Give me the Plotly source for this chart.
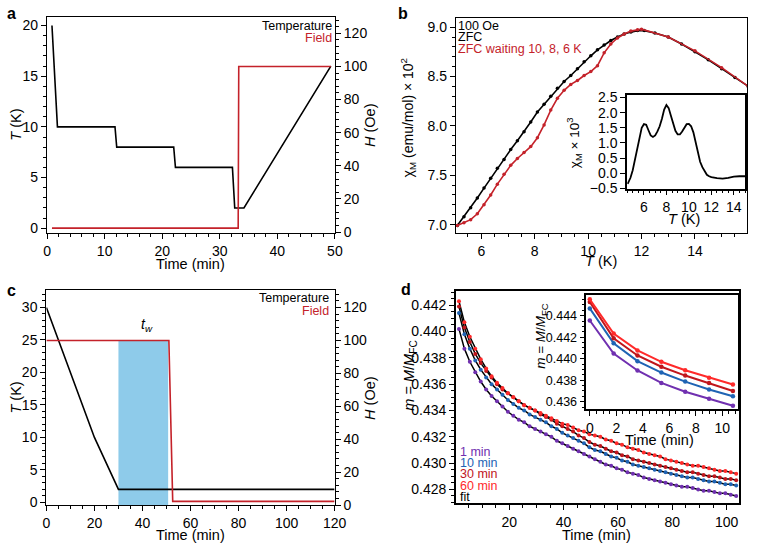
import plotly.graph_objects as go

FONT = "Liberation Sans, Arial, Helvetica, sans-serif"

# ---------------- Panel a ----------------
a_time_T = [0.85, 1.8, 11.8, 12.1, 22.0, 22.3, 32.2, 32.6, 34.2, 49.3]
a_temp = [20, 10, 10, 8, 8, 6, 6, 2, 2, 16]
a_time_H = [0.85, 33.2, 33.3, 49.3]
a_field = [2.4, 2.4, 100, 100]

# ---------------- Panel b ----------------
b_T_zfc = [5.1, 5.35, 5.6, 5.85, 6.1, 6.35, 6.6, 6.85, 7.1, 7.35, 7.6, 7.85, 8.1, 8.35, 8.6, 8.85,
           9.1, 9.35, 9.6, 9.85, 10.1, 10.35, 10.6, 10.85, 11.1, 11.35, 11.6, 11.85, 12.1, 12.5,
           13.0, 13.5, 14.0, 14.5, 15.0, 15.5, 16.0]
b_chi_zfc = [6.99, 7.08, 7.17, 7.27, 7.37, 7.47, 7.57, 7.66, 7.76, 7.85, 7.94, 8.04, 8.14, 8.22,
             8.30, 8.38, 8.45, 8.51, 8.58, 8.65, 8.71, 8.77, 8.82, 8.865, 8.90, 8.93, 8.95, 8.965,
             8.965, 8.94, 8.90, 8.83, 8.75, 8.67, 8.58, 8.49, 8.40]
b_T_wait = [5.1, 5.35, 5.6, 5.85, 6.1, 6.35, 6.6, 6.85, 7.1, 7.35, 7.6, 7.85, 8.1, 8.35, 8.6, 8.85,
            9.1, 9.35, 9.6, 9.85, 10.1, 10.35, 10.6, 10.85, 11.1, 11.35, 11.6, 11.85, 12.0,
            13.0, 14.0, 15.0, 16.0]
b_chi_wait = [6.99, 7.02, 7.05, 7.11, 7.20, 7.30, 7.41, 7.51, 7.60, 7.67, 7.73, 7.79, 7.88, 8.01,
              8.16, 8.28, 8.36, 8.42, 8.46, 8.51, 8.55, 8.61, 8.74, 8.83, 8.89, 8.93, 8.96, 8.975,
              8.98, 8.90, 8.76, 8.59, 8.40]
# inset: difference curve
b_in_T = [4.55, 4.8, 5.0, 5.2, 5.4, 5.6, 5.8, 6.0, 6.2, 6.4, 6.6, 6.8, 7.0, 7.2, 7.4, 7.6, 7.8, 8.0,
          8.2, 8.4, 8.6, 8.8, 9.0, 9.2, 9.4, 9.6, 9.8, 10.0, 10.2, 10.4, 10.6, 10.8, 11.0, 11.2,
          11.4, 11.6, 11.8, 12.0, 12.5, 13.0, 13.5, 14.0, 14.5, 15.0]
b_in_d = [-0.35, -0.15, 0.1, 0.45, 0.82, 1.18, 1.5, 1.62, 1.6, 1.42, 1.25, 1.2, 1.25, 1.38, 1.55,
          1.8, 2.1, 2.25, 2.15, 1.9, 1.62, 1.4, 1.28, 1.28, 1.38, 1.52, 1.62, 1.63, 1.55, 1.35,
          1.0, 0.65, 0.38, 0.2, 0.05, -0.05, -0.1, -0.13, -0.16, -0.18, -0.15, -0.11, -0.1, -0.1]

# ---------------- Panel c ----------------
c_time_T = [0, 20, 30, 120]
c_temp = [30, 10, 2, 2]
c_time_H = [0, 51, 52.6, 120]
c_field = [100, 100, 2.2, 2.2]
c_wait = [30, 50.7]
c_wait_top = 25

# ---------------- Panel d ----------------
d_t = [1.5, 3.5, 5.5, 7.5, 9.5, 11.5, 13.5, 15.5, 17.5, 19.5, 21.5, 23.5, 25.5, 27.5, 29.5, 31.5,
       33.5, 35.5, 37.5, 39.5, 41.5, 43.5, 45.5, 47.5, 49.5, 51.5, 53.5, 55.5, 57.5, 59.5, 61.5,
       63.5, 65.5, 67.5, 69.5, 71.5, 73.5, 75.5, 77.5, 79.5, 81.5, 83.5, 85.5, 87.5, 89.5, 91.5,
       93.5, 95.5, 97.5, 99.5, 101.5, 103.5]
d_m_1 = [.4402, .4387, .4377, .4369, .4362, .4356, .4351, .4347, .4343, .4339, .4336, .4333, .4331,
         .4328, .4326, .4324, .4322, .4320, .4317, .4315, .4313, .4311, .4309, .4307, .4305, .4303,
         .4301, .4299, .4298, .4296, .4295, .4293, .4292, .4291, .4289, .4288, .4287, .4286, .4285,
         .4284, .4283, .4282, .4282, .4281, .4280, .4279, .4279, .4278, .4277, .4277, .4276, .4275]
d_m_10 = [.4414, .4398, .4387, .4378, .4371, .4365, .4360, .4356, .4352, .4348, .4345, .4342, .4340,
          .4337, .4335, .4333, .4331, .4328, .4326, .4323, .4321, .4319, .4317, .4315, .4312, .4310,
          .4309, .4307, .4305, .4304, .4302, .4301, .4299, .4298, .4297, .4296, .4295, .4294, .4293,
          .4292, .4291, .4290, .4289, .4289, .4288, .4287, .4286, .4286, .4285, .4284, .4284, .4283]
d_m_30 = [.4419, .4403, .4392, .4383, .4376, .4370, .4365, .4360, .4356, .4353, .4350, .4347, .4344,
          .4342, .4340, .4337, .4335, .4333, .4330, .4328, .4326, .4324, .4321, .4319, .4316, .4314,
          .4313, .4311, .4309, .4308, .4306, .4305, .4303, .4302, .4301, .4300, .4299, .4298, .4297,
          .4296, .4295, .4294, .4293, .4293, .4292, .4291, .4290, .4290, .4289, .4288, .4288, .4287]
d_m_60 = [.4423, .4407, .4396, .4387, .4379, .4372, .4366, .4361, .4357, .4353, .4350, .4347, .4344,
          .4342, .4340, .4338, .4336, .4334, .4332, .4330, .4329, .4327, .4325, .4324, .4322, .4321,
          .4320, .4318, .4317, .4315, .4314, .4312, .4311, .4310, .4308, .4307, .4306, .4305, .4303,
          .4302, .4301, .4300, .4299, .4298, .4298, .4297, .4296, .4295, .4294, .4294, .4293, .4292]
# inset (first minutes)
d_in_t = [0, 1.8, 3.6, 5.4, 7.2, 9.0, 10.8]
d_in_1 = [0.44355, 0.44047, 0.43890, 0.43775, 0.43693, 0.43627, 0.43563]
d_in_10 = [0.44467, 0.44143, 0.43977, 0.43871, 0.43787, 0.43714, 0.43650]
d_in_30 = [0.44527, 0.44190, 0.44030, 0.43925, 0.43843, 0.43773, 0.43700]
d_in_60 = [0.44551, 0.44234, 0.44077, 0.43971, 0.43892, 0.43823, 0.43760]
d_labels = ["1 min", "10 min", "30 min", "60 min"]

RED = "#c4222a"
D_COLORS = ["#7030b0", "#1f64b4", "#c0161c", "#ff2a2a"]

fig = go.Figure()

def line(x, y, xa, ya, color, width=1.6, mode="lines", msize=3):
    fig.add_trace(go.Scatter(x=x, y=y, xaxis=xa, yaxis=ya, mode=mode,
                             line=dict(color=color, width=width),
                             marker=dict(color=color, size=msize),
                             showlegend=False, hoverinfo="skip"))

# a
line(a_time_T, a_temp, "x", "y", "black")
line(a_time_H, a_field, "x", "y2", RED)
# b
line(b_T_zfc, b_chi_zfc, "x2", "y3", "black", 1.6, "lines+markers", 3.5)
line(b_T_wait, b_chi_wait, "x2", "y3", RED, 1.6, "lines+markers", 3.5)
line(b_in_T, b_in_d, "x3", "y4", "black", 1.8)
# c
line(c_time_T, c_temp, "x4", "y5", "black")
line(c_time_H, c_field, "x4", "y6", RED)
# d main: fit lines then data dots
for ser in [d_m_1, d_m_10, d_m_30, d_m_60]:
    line(d_t, ser, "x5", "y7", "black", 1.5)
for ser, col in zip([d_m_1, d_m_10, d_m_30, d_m_60], D_COLORS):
    line(d_t, ser, "x5", "y7", col, 1, "markers", 4)
# d inset
for ser, col in zip([d_in_1, d_in_10, d_in_30, d_in_60], D_COLORS):
    line(d_in_t, ser, "x6", "y8", col, 2, "lines+markers", 4.5)


def ax(domain, rng, dtick, minor=None, anchor=None, lw=1.3, fs=14, **kw):
    d = dict(domain=domain, range=rng, dtick=dtick, showline=True, linecolor="black",
             linewidth=lw, ticks="outside", ticklen=5, tickwidth=1.2, tickcolor="black",
             showgrid=False, zeroline=False, fixedrange=True,
             tickfont=dict(size=fs, color="black", family=FONT))
    if anchor:
        d["anchor"] = anchor
    if minor:
        d["minor"] = dict(dtick=minor, ticks="outside", ticklen=3, tickwidth=1,
                          tickcolor="black", showgrid=False)
    d.update(kw)
    return d


def px(x):
    return x / 760.0


def py(y):
    return 1 - y / 552.0


A_X = [px(44), px(338)]
A_Y = [py(233), py(11)]
B_X = [px(461.7), 0.999]
B_Y = [py(233), py(12.7)]
BI_X = [px(636.5), px(757)]
BI_Y = [py(187.3), py(91.7)]
C_X = [px(43.3), px(337.7)]
C_Y = [py(512), py(291)]
D_X = [px(461.7), px(750.7)]
D_Y = [py(510.3), py(292.7)]
DI_X = [px(595), px(750)]
DI_Y = [py(413.3), py(296.7)]

fig.update_layout(
    autosize=True, margin=dict(l=0, r=0, t=0, b=0, pad=0),
    paper_bgcolor="white", plot_bgcolor="rgba(0,0,0,0)",
    font=dict(family=FONT, color="black"),
    xaxis=ax(A_X, [0, 50], 10, 2, "y", mirror=True),
    yaxis=ax(A_Y, [-0.48, 20.87], 5, 1, "x", mirror=True),
    yaxis2=ax(A_Y, [-0.59, 130], 20, 4, "x", overlaying="y", side="right"),
    xaxis2=ax(B_X, [5.05, 15.96], 2, 0.5, "y3", mirror=True),
    yaxis3=ax(B_Y, [6.914, 9.089], 0.5, 0.1, "x2", mirror=True, tickformat=".1f"),
    xaxis3=ax(BI_X, [4.5, 15], 2, 0.5, "y4", lw=1.6, mirror=True),
    yaxis4=ax(BI_Y, [-0.505, 2.57], 0.5, None, "x3", lw=1.6, mirror=True, tickformat=".1f"),
    xaxis4=ax(C_X, [0, 120], 20, 5, "y5", mirror=True),
    yaxis5=ax(C_Y, [-0.4, 32.75], 5, 1, "x4", mirror=True),
    yaxis6=ax(C_Y, [0, 130.9], 20, 4, "x4", overlaying="y5", side="right"),
    xaxis5=ax(D_X, [0.4, 104.5], 20, 5, "y7", lw=1.8, mirror=True),
    yaxis7=ax(D_Y, [0.42694, 0.44306], 0.002, 0.0005, "x5", lw=1.8, mirror=True,
              tickformat=".3f"),
    xaxis6=ax(DI_X, [-0.25, 11.2], 2, 0.5, "y8", lw=1.8, mirror=True, fs=14),
    yaxis8=ax(DI_Y, [0.43534, 0.4459], 0.002, 0.0005, "x6", lw=1.8, mirror=True,
              tickformat=".3f", fs=12.5),
)

# waiting-time rectangle in panel c
fig.add_shape(type="rect", xref="x4", yref="y5", x0=c_wait[0], x1=c_wait[1],
              y0=-0.4, y1=c_wait_top, fillcolor="#8ecbea", line=dict(width=0), layer="below")

ann = []


def text(x, y, s, size=14, color="black", xanchor="center", yanchor="middle", angle=0,
         bold=False):
    if bold:
        s = "<b>" + s + "</b>"
    ann.append(dict(x=px(x), y=py(y), xref="paper", yref="paper", text=s, showarrow=False,
                    xanchor=xanchor, yanchor=yanchor, textangle=angle, borderpad=0,
                    font=dict(size=size, color=color, family=FONT)))


# panel labels
text(2, 8, "a", 16, xanchor="left", bold=True)
text(401, 8, "b", 16, xanchor="left", bold=True)
text(2, 292, "c", 16, xanchor="left", bold=True)
text(405, 291, "d", 16, xanchor="left", bold=True)

# a
text(12, 122, "<i>T</i> (K)", 14.5, angle=-90)
text(374, 122, "<i>H</i> (Oe)", 14.5, angle=-90)
text(191, 265, "Time (min)", 14.5)
text(336, 21, "Temperature", 12.5, xanchor="right")
text(336, 32.5, "Field", 12.5, RED, xanchor="right")

# b
text(413, 115, "χ<sub>M</sub> (emu/mol) × 10<sup>2</sup>", 14, angle=-90)
text(610, 262, "<i>T</i> (K)", 14.5)
text(463, 20.5, "100 Oe", 12.5, xanchor="left")
text(463, 32.3, "ZFC", 12.5, xanchor="left")
text(463, 44, "ZFC waiting 10, 8, 6 K", 12.5, RED, xanchor="left")
text(583, 140, "χ<sub>M</sub> × 10<sup>3</sup>", 13.5, angle=-90)
text(695, 219, "<i>T</i> (K)", 14.5)

# c
text(12, 402, "<i>T</i> (K)", 14.5, angle=-90)
text(374, 402, "<i>H</i> (Oe)", 14.5, angle=-90)
text(190, 543, "Time (min)", 14.5)
text(333, 300, "Temperature", 12.5, xanchor="right")
text(333, 313.3, "Field", 12.5, RED, xanchor="right")
ann.append(dict(x=(c_wait[0] + c_wait[1]) / 2 + 1.5, y=c_wait_top + 0.6, xref="x4", yref="y5",
                text="<i>t<sub>w</sub></i>", showarrow=False, yanchor="bottom",
                font=dict(size=14, color="black", family=FONT)))

# d
text(415, 379, "<i>m</i> = <i>M</i>/<i>M</i><sub>FC</sub>", 14.5, angle=-90)
text(605, 543, "Time (min)", 14.5)
for i, (lab, col) in enumerate(zip(d_labels + ["fit"], D_COLORS + ["black"])):
    text(465, 457.5 + i * 11.5, lab, 12.5, col, xanchor="left")
text(549, 338, "<i>m</i> = <i>M</i>/<i>M</i><sub>FC</sub>", 13.5, angle=-90)
text(670, 445, "Time (min)", 14.5)

fig.update_layout(annotations=ann)

POST = (
    "var gd=document.getElementById('{plot_id}');"
    "var h=document.documentElement;h.style.margin='0';h.style.padding='0';h.style.overflow='hidden';"
    "document.body.style.margin='0';document.body.style.padding='0';"
    "document.body.style.overflow='hidden';"
    "gd.style.position='fixed';gd.style.left='0';gd.style.top='0';"
    "gd.style.width='100vw';gd.style.height='100vh';"
    "Plotly.Plots.resize(gd);"
)
fig.write_html(
    "out.html",
    default_width="100vw",
    default_height="100vh",
    config={"displayModeBar": False, "responsive": True},
    post_script=POST,
)
